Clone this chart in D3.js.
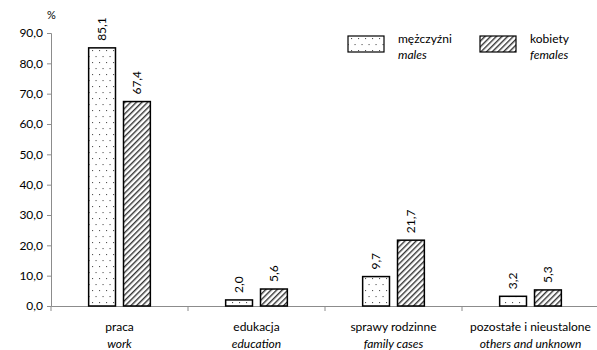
<!DOCTYPE html>
<html><head><meta charset="utf-8">
<script src="https://cdn.jsdelivr.net/npm/d3@7"></script>
<style>body{margin:0;background:#fff}svg{display:block}text{font-family:Lato,"Open Sans",sans-serif}</style>
</head><body>
<script>
const categoriesPL = ["praca","edukacja","sprawy rodzinne","pozostałe i nieustalone"];
const categoriesEN = ["work","education","family cases","others and unknown"];
const males = [85.1, 2.0, 9.7, 3.2];
const females = [67.4, 5.6, 21.7, 5.3];
const yTicks = [0,10,20,30,40,50,60,70,80,90];
const seriesPL = ["mężczyźni","kobiety"];
const seriesEN = ["males","females"];

const W=597,H=350;
const svg=d3.select("body").append("svg").attr("width",W).attr("height",H);
const defs=svg.append("defs");
const dots=defs.append("pattern").attr("id","dots").attr("patternUnits","userSpaceOnUse").attr("width",7).attr("height",12);
dots.append("rect").attr("width",7).attr("height",12).attr("fill","#fff");
dots.append("rect").attr("x",1).attr("y",2).attr("width",1.1).attr("height",1.1).attr("fill","#555");
dots.append("rect").attr("x",4.5).attr("y",8).attr("width",1.1).attr("height",1.1).attr("fill","#555");
const hatch=defs.append("pattern").attr("id","hatch").attr("patternUnits","userSpaceOnUse").attr("width",4).attr("height",4).attr("patternTransform","rotate(45)");
hatch.append("rect").attr("width",4).attr("height",4).attr("fill","#fff");
hatch.append("rect").attr("x",0).attr("y",0).attr("width",1.4).attr("height",4).attr("fill","#333");

const x=d3.scaleBand().domain(categoriesPL).range([51,599]);
const y=d3.scaleLinear().domain([0,90]).range([306,33]);
const xs=d3.scaleBand().domain([0,1]).range([0,x.bandwidth()]).paddingInner(0.23).paddingOuter(1.08);

// y axis
const ya=svg.append("g").attr("transform","translate(51,0)")
 .call(d3.axisLeft(y).tickValues(yTicks).tickSize(4).tickFormat(d=>d3.format(".1f")(d).replace(".",",")));
ya.select(".domain").attr("stroke","#8c8c8c");
ya.selectAll(".tick line").attr("stroke","#8c8c8c");
ya.selectAll(".tick text").attr("font-size",12).attr("fill","#000").attr("x",-8);
// x axis
const xa=svg.append("g").attr("transform","translate(0,306)")
 .call(d3.axisBottom(x).tickSize(0).tickFormat(""));
xa.select(".domain").attr("stroke","#8c8c8c");
const bounds=categoriesPL.map(c=>x(c)).concat([x.range()[1]]);
svg.append("g").selectAll("line").data(bounds).join("line")
 .attr("x1",d=>d).attr("x2",d=>d).attr("y1",306).attr("y2",311).attr("stroke","#8c8c8c");

svg.append("text").attr("x",47).attr("y",19).attr("font-size",11).text("%");

const data=[males,females];
const fills=["url(#dots)","url(#hatch)"];
data.forEach((vals,si)=>{
  const g=svg.append("g");
  g.selectAll("rect").data(vals).join("rect")
   .attr("x",(d,i)=>x(categoriesPL[i])+xs(si)).attr("width",xs.bandwidth())
   .attr("y",d=>y(d)).attr("height",d=>y(0)-y(d))
   .attr("fill",fills[si]).attr("stroke","#000").attr("stroke-width",1.5);
  g.selectAll("text").data(vals).join("text")
   .attr("transform",(d,i)=>`translate(${x(categoriesPL[i])+xs(si)+xs.bandwidth()/2+4},${y(d)-7}) rotate(-90)`)
   .attr("font-size",12).text(d=>d3.format(".1f")(d).replace(".",","));
});

// category labels
const cl=svg.append("g");
cl.selectAll("text.pl").data(categoriesPL).join("text").attr("class","pl")
 .attr("x",d=>x(d)+x.bandwidth()/2).attr("y",331).attr("text-anchor","middle").attr("font-size",12).text(d=>d);
cl.selectAll("text.en").data(categoriesEN).join("text").attr("class","en")
 .attr("x",(d,i)=>x(categoriesPL[i])+x.bandwidth()/2).attr("y",348).attr("text-anchor","middle").attr("font-size",12).attr("font-style","italic").text(d=>d);

// legend
const lg=svg.append("g");
const lx=[348,480];
seriesPL.forEach((s,i)=>{
  lg.append("rect").attr("x",lx[i]).attr("y",36).attr("width",36).attr("height",16).attr("fill",fills[i]).attr("stroke","#000").attr("stroke-width",1.2);
  lg.append("text").attr("x",lx[i]+50).attr("y",43).attr("font-size",12).text(s);
  lg.append("text").attr("x",lx[i]+50).attr("y",59).attr("font-size",12).attr("font-style","italic").text(seriesEN[i]);
});
</script>
</body></html>
